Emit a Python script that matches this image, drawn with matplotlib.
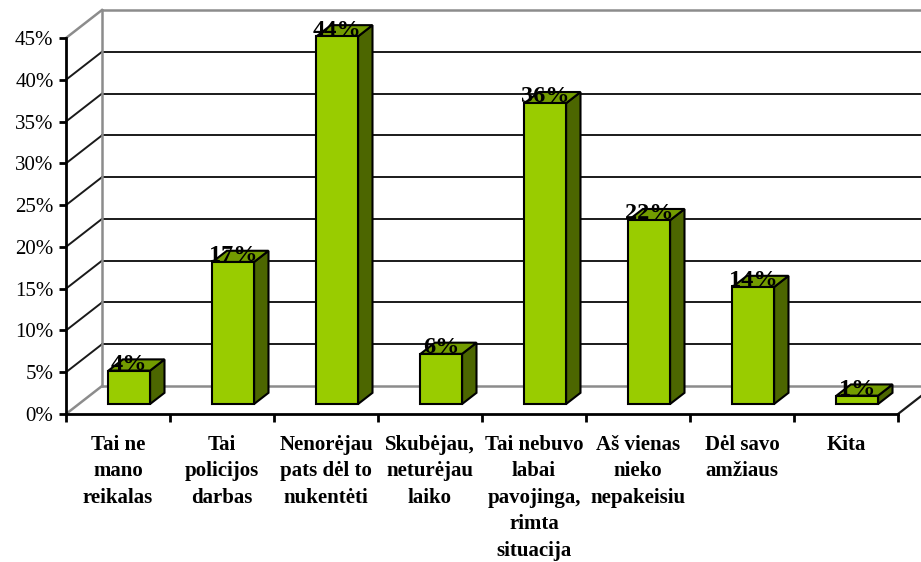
import matplotlib
matplotlib.use('Agg')
import matplotlib.pyplot as plt
from matplotlib.patches import Polygon

categories = [
    "Tai ne\nmano\nreikalas",
    "Tai\npolicijos\ndarbas",
    "Nenorėjau\npats dėl to\nnukentėti",
    "Skubėjau,\nneturėjau\nlaiko",
    "Tai nebuvo\nlabai\npavojinga,\nrimta\nsituacija",
    "Aš vienas\nnieko\nnepakeisiu",
    "Dėl savo\namžiaus",
    "Kita",
]
values = [4, 17, 44, 6, 36, 22, 14, 1]
y_ticks = [0, 5, 10, 15, 20, 25, 30, 35, 40, 45]
y_tick_labels = [f"{t}%" for t in y_ticks]

FRONT = "#99cc00"
TOP = "#739c00"
SIDE = "#4c6600"
GRID = "#1a1a1a"
WALL = "#8c8c8c"
SERIF = ["Liberation Serif", "DejaVu Serif"]


def main():
    fig = plt.figure(figsize=(9.21, 5.62), dpi=100)
    ax = fig.add_axes([66 / 921, 148 / 562, 832 / 921, 376 / 562])
    n = len(values)
    ax.set_xlim(0, n)
    ax.set_ylim(0, 45)
    ax.patch.set_alpha(0)

    # depth of the 3d box in data units
    dx = 36 / 104
    dy = 28 * 45 / 376

    # back wall and side wall
    for t in y_ticks:
        col = WALL if t in (0, 45) else GRID
        lw = 1.8 if t in (0, 45) else 1.4
        ax.plot([dx, n + dx], [t + dy, t + dy], color=col, lw=lw, clip_on=False, zorder=1)
        ax.plot([0, dx], [t, t + dy], color=col, lw=lw, clip_on=False, zorder=1)
    ax.plot([dx, dx], [dy, 45 + dy], color=WALL, lw=1.8, clip_on=False, zorder=1)
    ax.plot([n, n + dx], [0, dy], color=GRID, lw=1.6, clip_on=False, zorder=1)

    # bars
    f0, f1 = 0.357, 0.757
    w = 0.4
    for i, v in enumerate(values):
        x0 = i + 0.285
        x1 = x0 + w
        ax0, ay0 = f0 * dx, f0 * dy
        ax1, ay1 = f1 * dx, f1 * dy
        front = [(x0 + ax0, ay0), (x1 + ax0, ay0), (x1 + ax0, v + ay0), (x0 + ax0, v + ay0)]
        top = [(x0 + ax0, v + ay0), (x1 + ax0, v + ay0), (x1 + ax1, v + ay1), (x0 + ax1, v + ay1)]
        side = [(x1 + ax0, ay0), (x1 + ax1, ay1), (x1 + ax1, v + ay1), (x1 + ax0, v + ay0)]
        for pts, c in ((side, SIDE), (top, TOP), (front, FRONT)):
            ax.add_patch(Polygon(pts, closed=True, facecolor=c, edgecolor="black",
                                 lw=1.5, clip_on=False, zorder=3))
        ax.text((x0 + x1) / 2 + ax0, v + ay0 + 0.1, f"{v}%", ha="center", va="baseline",
                fontsize=17.5, fontweight="bold", family=SERIF, zorder=5, clip_on=False)

    # axes
    for s in ("top", "right"):
        ax.spines[s].set_visible(False)
    ax.spines["left"].set_linewidth(2)
    ax.spines["bottom"].set_linewidth(2)
    ax.spines["left"].set_zorder(4)
    ax.spines["bottom"].set_zorder(4)
    ax.set_yticks(y_ticks)
    ax.set_yticklabels(y_tick_labels, family=SERIF, fontsize=15)
    ax.tick_params(axis="y", direction="out", length=5, width=2, pad=4)

    ax.set_xticks([i + 0.5 for i in range(n)])
    ax.set_xticklabels(categories, family=SERIF, fontsize=15, fontweight="bold",
                       linespacing=1.43)
    ax.set_xticks(range(n + 1), minor=True)
    ax.tick_params(axis="x", which="major", length=0, pad=15)
    ax.tick_params(axis="x", which="minor", direction="out", length=6, width=2)

    fig.savefig("out.png", dpi=100)
    return 0


if __name__ == "__main__":
    main()
